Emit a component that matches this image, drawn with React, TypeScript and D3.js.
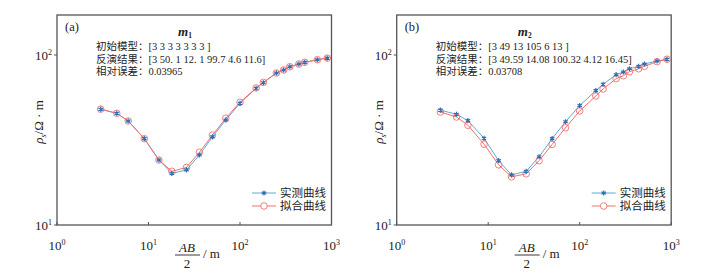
import React from 'react';
import * as d3 from 'd3';

// AB/2 electrode spacing (m), shared by both panels
const spacing = [3, 4.5, 6, 9, 13, 18, 26, 36, 50, 70, 100, 150, 180, 250, 300, 350, 440, 510, 700, 900];

// panel (a) m1
const measuredA = [48, 45.4, 40.9, 32.2, 24.1, 20.1, 21.1, 25.8, 33, 41.5, 52, 63.7, 68.7, 78.4, 81.6, 85.3, 88.5, 90.6, 93.8, 95.9];
const fittedA = [48, 45.4, 40.9, 32.2, 24.1, 20.7, 21.8, 26.8, 33.8, 42.5, 52.7, 64, 69, 78.4, 81.6, 85.3, 88.5, 90.6, 93.8, 95.9];

// panel (b) m2
const measuredB = [47.4, 44.8, 41.1, 32.4, 23.9, 19.7, 20.7, 25.2, 32.2, 40.5, 50.4, 61.7, 67.3, 76.6, 79.4, 83, 85.8, 88.5, 92.2, 94.4];
const fittedB = [46.2, 43.2, 38.6, 29.9, 22.6, 19.2, 20, 23.9, 29.8, 37.3, 46.9, 57.4, 63.1, 72.6, 75.5, 79.8, 83, 85.8, 91.4, 94.4];

const xTicks = [1, 10, 100, 1000];
const yTicks = [10, 100];
const legendLabels = ['实测曲线', '拟合曲线'];

const notesA = ['初始模型：[3 3 3 3 3 3 3 ]', '反演结果：[3 50. 1 12. 1 99.7 4.6 11.6]', '相对误差：0.03965'];
const notesB = ['初始模型：[3 49 13 105 6 13 ]', '反演结果：[3 49.59 14.08 100.32 4.12 16.45]', '相对误差：0.03708'];

const serif = '"Liberation Serif", "Times New Roman", serif';
const cjk = '"Liberation Serif", "Noto Sans CJK SC", serif';
const blue = '#5aaad8';
const blueMark = '#2f6db3';
const red = '#f07070';

const W = 274.5;
const H = 210;

type PanelProps = {
  left: number;
  tag: string;
  sub: string;
  notes: string[];
  measured: number[];
  fitted: number[];
};

const Panel = ({ left, tag, sub, notes, measured, fitted }: PanelProps) => {
  const top = 15;
  const x = d3.scaleLog().domain([1, 1000]).range([0, W]);
  const y = d3.scaleLog().domain([10, Math.pow(10, 1 + 210 / 170)]).range([H, 0]);

  const line = d3.line<number>()
    .x((d, i) => x(spacing[i]))
    .y(d => y(d));

  const star = d3.symbol().type(d3.symbolAsterisk).size(18)();

  return (
    <g transform={`translate(${left},${top})`}>
      <rect x={0} y={0} width={W} height={H} fill="none" stroke="#555" strokeWidth={1.3} />

      {xTicks.map(t => (
        <g key={t} transform={`translate(${x(t)},${H})`}>
          <line y1={0} y2={-3} stroke="#555" />
          <text y={25} textAnchor="middle" fontFamily={serif} fontSize={13} fill="#222">
            10<tspan dy={-5} fontSize={8}>{Math.round(Math.log10(t))}</tspan>
          </text>
        </g>
      ))}
      {yTicks.map(t => (
        <g key={t} transform={`translate(0,${y(t)})`}>
          <line x1={0} x2={-3} stroke="#555" />
          <text x={-5} y={5} textAnchor="end" fontFamily={serif} fontSize={13} fill="#222">
            10<tspan dy={-5} fontSize={8}>{Math.round(Math.log10(t))}</tspan>
          </text>
        </g>
      ))}

      <text x={8} y={16} fontFamily={serif} fontSize={12.5} fill="#222">{tag}</text>
      <text x={128} y={20.5} fontFamily={serif} fontSize={13} fontStyle="italic" fontWeight="bold" fill="#222" textAnchor="middle">
        m<tspan dy={2.5} fontSize={7.5} fontStyle="normal">{sub}</tspan>
      </text>
      {notes.map((n, i) => (
        <text key={i} x={39} y={35 + i * 12.5} fontFamily={cjk} fontSize={10.5} fill="#222">{n}</text>
      ))}

      <path d={line(measured) || ''} fill="none" stroke={blue} strokeWidth={1} />
      <path d={line(fitted) || ''} fill="none" stroke={red} strokeWidth={1} />
      {fitted.map((v, i) => (
        <circle key={'f' + i} cx={x(spacing[i])} cy={y(v)} r={3.3} fill="none" stroke={red} strokeWidth={0.9} />
      ))}
      {measured.map((v, i) => (
        <path key={'m' + i} d={star || ''} transform={`translate(${x(spacing[i])},${y(v)})`} fill="none" stroke={blueMark} strokeWidth={1.2} />
      ))}

      {/* legend */}
      <g transform="translate(195,178)">
        <line x1={0} x2={24} y1={0} y2={0} stroke={blue} />
        <path d={star || ''} transform="translate(12,0)" fill="none" stroke={blueMark} strokeWidth={1.2} />
        <text x={28} y={4} fontFamily={cjk} fontSize={11.5} fill="#222">{legendLabels[0]}</text>
        <line x1={0} x2={24} y1={13} y2={13} stroke={red} />
        <circle cx={12} cy={13} r={3.3} fill="#fff" stroke={red} strokeWidth={0.9} />
        <text x={28} y={17} fontFamily={cjk} fontSize={11.5} fill="#222">{legendLabels[1]}</text>
      </g>

      {/* y label */}
      <text transform={`translate(-14,${H / 2 + 2}) rotate(-90)`} textAnchor="middle" fontFamily={serif} fontSize={13} fill="#222">
        <tspan fontStyle="italic">ρ</tspan><tspan dy={3} fontSize={8} fontStyle="italic">s</tspan><tspan dy={-3}>/Ω · m</tspan>
      </text>

      {/* x label */}
      <g transform={`translate(130,${H})`}>
        <text x={0} y={27} textAnchor="middle" fontFamily={serif} fontSize={13} fontStyle="italic" fill="#222">AB</text>
        <line x1={-12} x2={13} y1={30} y2={30} stroke="#222" strokeWidth={0.9} />
        <text x={0} y={43} textAnchor="middle" fontFamily={serif} fontSize={13} fill="#222">2</text>
        <text x={16} y={33} fontFamily={serif} fontSize={13} fill="#222">/ m</text>
      </g>
    </g>
  );
};

const App = () => (
  <div style={{ position: 'absolute', left: 0, top: 0 }}>
    <svg width={710} height={280} style={{ display: 'block', background: '#fff' }}>
      <Panel left={57} tag="(a)" sub="1" notes={notesA} measured={measuredA} fitted={fittedA} />
      <Panel left={396.7} tag="(b)" sub="2" notes={notesB} measured={measuredB} fitted={fittedB} />
    </svg>
  </div>
);

export default App;
